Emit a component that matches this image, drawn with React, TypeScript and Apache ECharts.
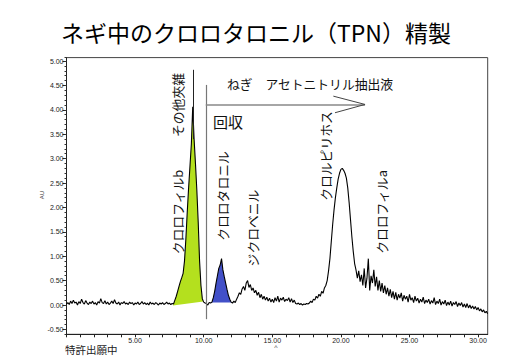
import React, { useEffect, useRef } from "react";
import * as echarts from "echarts";

const chartTitle = "ネギ中のクロロタロニル（TPN）精製";
const footerText = "特許出願中";
const yAxisName = "AU";

// chromatogram sampled every 0.1 min
const sampleStep = 0.1;

const baselineStart = 0.0;
const baseline = [
  0.02, 0.05, 0.01, 0.08, 0.03, 0.1, 0.04, 0.06, 0.0, 0.07,
  0.03, 0.12, 0.05, 0.02, 0.09, 0.04, 0.01, 0.06, 0.03, 0.08,
  0.02, 0.05, 0.0, 0.07, 0.04, 0.13, 0.05, 0.03, 0.09, 0.02,
  0.06, 0.01, 0.04, 0.08, 0.03, 0.11, 0.04, 0.02, 0.06, 0.0,
  0.05, 0.03, 0.07, 0.02, 0.04, 0.01, 0.06, 0.03, 0.05, 0.0,
  0.04, 0.02, 0.06, 0.01, 0.03, 0.07, 0.02, 0.05, 0.01, 0.04,
  0.0, 0.06, 0.02, 0.04, 0.01, 0.05, 0.03, 0.0, 0.04, 0.02,
  0.05, 0.01, 0.03, 0.06, 0.02, 0.04, 0.01, 0.03,
];

const chlorophyllBStart = 7.8;
const chlorophyllB = [
  0.02, 0.1, 0.18, 0.28, 0.38, 0.48, 0.56, 0.65, 0.9, 1.35,
  1.9, 2.4, 2.85, 3.3, 4.06, 3.4, 2.9, 2.35, 1.7, 0.9,
  0.4, 0.13, 0.06, 0.04,
];

const gapStart = 10.2;
const gap = [0.03, 0.0, 0.05, 0.04];

const chlorothalonilStart = 10.6;
const chlorothalonil = [
  0.06, 0.15, 0.28, 0.45, 0.6, 0.75, 0.82, 0.95, 0.72, 0.58,
  0.45, 0.32, 0.2, 0.12, 0.06,
];

const tailStart = 12.1;
const tail = [
  0.04, 0.08, 0.05, 0.12, 0.18, 0.25, 0.22, 0.33, 0.38, 0.3,
  0.45, 0.5, 0.36, 0.42, 0.3, 0.35, 0.25, 0.3, 0.2, 0.26,
  0.15, 0.22, 0.12, 0.18, 0.1, 0.16, 0.08, 0.14, 0.06, 0.12,
  0.05, 0.15, 0.08, 0.18, 0.06, 0.14, 0.1, 0.16, 0.07, 0.12,
  0.09, 0.15, 0.06, 0.13, 0.05, 0.1, 0.03, 0.02, 0.04, 0.01,
  0.03, 0.0, 0.02, 0.01, 0.03, 0.02, 0.04, 0.08, 0.05, 0.12,
  0.1, 0.18, 0.14, 0.22, 0.18, 0.28, 0.24, 0.35, 0.4, 0.5,
  0.7, 0.95, 1.3, 1.65, 1.95, 2.2, 2.4, 2.58, 2.7, 2.78,
  2.8, 2.76, 2.7, 2.6, 2.4, 2.1, 1.75, 1.4, 1.1, 0.85,
  0.72, 0.55, 0.7, 0.48, 0.62, 0.4, 0.75, 0.35, 0.55, 0.95,
  0.3, 0.6, 0.45, 0.72, 0.38, 0.58, 0.3, 0.5, 0.28, 0.45,
  0.25, 0.4, 0.22, 0.35, 0.18, 0.32, 0.15, 0.28, 0.12, 0.26,
  0.1, 0.22, 0.14, 0.25, 0.08, 0.2, 0.12, 0.18, 0.06, 0.22,
  0.1, 0.15, 0.05, 0.18, 0.08, 0.14, 0.04, 0.12, 0.06, 0.16,
  0.03, 0.1, 0.05, 0.12, 0.02, 0.09, 0.04, 0.15, 0.01, 0.08,
  0.03, 0.12, 0.0, 0.07, 0.02, 0.1, -0.01, 0.06, 0.0, 0.08,
  -0.02, 0.05, 0.01, 0.07, -0.03, 0.04, -0.01, 0.05, -0.04, 0.02,
  -0.05, 0.03, -0.06, 0.0, -0.07, -0.02, -0.08, -0.03, -0.1, -0.05,
  -0.12, -0.08, -0.14, -0.1, -0.16, -0.13, -0.18,
];

// integration baselines of the shaded peaks [time, AU]
const greenBaseline = [[7.76, -0.01], [9.97, 0.07]];
const blueBaseline = [[10.5, 0.05], [12.1, 0.05]];

const yLabelValues = [-0.5, 0, 0.5, 1, 1.5, 2, 2.5, 3, 3.5, 4, 4.5, 5];
const xLabelValues = [5, 10, 15, 20, 25, 30];

// annotation marks [time, AU]
const peakCutLine = [[9.22, 4.82], [9.22, 3.4]];
const recoveryLine = [[10.15, 4.51], [10.15, -0.29]];
const arrowShaft = [[10.15, 4.11], [21.76, 4.11]];
const arrowHeadUpper = [[19.45, 4.28], [21.76, 4.11]];
const arrowHeadLower = [[19.57, 3.94], [21.76, 4.11]];

const peakLabels = [
  { text: "その他夾雑", x: 177, y: 105 },
  { text: "クロロフィルb", x: 177, y: 212 },
  { text: "クロロタロニル", x: 222, y: 196 },
  { text: "ジクロベニル", x: 252, y: 228 },
  { text: "クロルピリホス", x: 325, y: 156 },
  { text: "クロロフィルa", x: 381, y: 212 },
];

function toPairs(start: number, values: number[]): number[][] {
  return values.map((v, i) => [Math.round((start + i * sampleStep) * 100) / 100, v]);
}

const chlorophyllBPairs = toPairs(chlorophyllBStart, chlorophyllB);
const chlorothalonilPairs = toPairs(chlorothalonilStart, chlorothalonil);
const trace = [
  ...toPairs(baselineStart, baseline),
  ...chlorophyllBPairs,
  ...toPairs(gapStart, gap),
  ...chlorothalonilPairs,
  ...toPairs(tailStart, tail),
];

const greenPeak = chlorophyllBPairs.filter((p) => p[0] >= 7.8 && p[0] <= 9.9);
const bluePeak = chlorothalonilPairs;

function fillSeries(peak: number[][], base: number[][], color: string) {
  return {
    type: "custom",
    coordinateSystem: "cartesian2d",
    silent: true,
    z: 1,
    data: [[base[0][0], base[0][1]]],
    renderItem: (_params: any, api: any) => {
      const pts = [base[0], ...peak, base[1]].map((p) => api.coord(p));
      return {
        type: "polygon",
        shape: { points: pts },
        style: { fill: color, stroke: "none" },
      };
    },
  };
}

function seg(pair: number[][], color: string, width: number) {
  return [
    { coord: pair[0], lineStyle: { color, width, type: "solid" } },
    { coord: pair[1] },
  ];
}

const cjk = '"Noto Sans CJK JP", sans-serif';
const latin = '"Liberation Sans", Arial, sans-serif';

export default function App() {
  const ref = useRef<HTMLDivElement>(null);
  useEffect(() => {
    if (!ref.current) return;
    const chart = echarts.init(ref.current, undefined, { renderer: "svg" });
    chart.setOption({
      animation: false,
      backgroundColor: "#ffffff",
      grid: {
        left: 66.5,
        right: 29.3,
        top: 57.6,
        bottom: 23.7,
        show: true,
        borderColor: "#444",
        borderWidth: 1,
        backgroundColor: "transparent",
        outerBoundsMode: "none",
      },
      xAxis: {
        type: "value",
        min: 0,
        max: 30.7,
        interval: 1,
        axisLine: { show: true, onZero: false, lineStyle: { color: "#222", width: 1 } },
        axisTick: { show: true, length: 3, inside: false, lineStyle: { color: "#222" } },
        axisLabel: {
          show: true,
          interval: 0,
          margin: 3,
          fontSize: 7,
          fontFamily: latin,
          color: "#222",
          showMaxLabel: false,
          formatter: (v: number) => (xLabelValues.indexOf(Math.round(v * 100) / 100) >= 0 ? v.toFixed(2) : ""),
        },
        splitLine: { show: false },
      },
      yAxis: [
        {
          type: "value",
          min: -0.6,
          max: 5.07,
          axisLine: { show: true, onZero: false, lineStyle: { color: "#222", width: 1 } },
          axisTick: { show: true, length: 4, customValues: yLabelValues, lineStyle: { color: "#222" } },
          axisLabel: {
            show: true,
            margin: 3,
            fontSize: 7,
            fontFamily: latin,
            color: "#222",
            customValues: yLabelValues,
            formatter: (v: number) => v.toFixed(2),
          },
          splitLine: { show: false },
        },
        {
          type: "value",
          position: "left",
          min: -0.6,
          max: 5.07,
          interval: 0.1,
          axisLine: { show: false },
          axisTick: { show: true, length: 2, lineStyle: { color: "#333" } },
          axisLabel: { show: false },
          splitLine: { show: false },
        },
      ],
      series: [
        fillSeries(greenPeak, greenBaseline, "#b4e01e"),
        fillSeries(bluePeak, blueBaseline, "#4250c8"),
        {
          type: "line",
          data: trace,
          showSymbol: false,
          symbol: "none",
          z: 2,
          silent: true,
          lineStyle: { color: "#000", width: 1.1 },
          markLine: {
            silent: true,
            symbol: ["none", "none"],
            label: { show: false },
            emphasis: { disabled: true },
            data: [
              seg(peakCutLine, "#222", 1),
              seg(recoveryLine, "#777", 1.2),
              seg(arrowShaft, "#888", 1.5),
              seg(arrowHeadUpper, "#444", 1),
              seg(arrowHeadLower, "#444", 1),
            ],
          },
        },
      ],
      graphic: [
        {
          type: "text",
          x: 256,
          y: 32,
          style: {
            text: chartTitle,
            fontSize: 23,
            fontFamily: cjk,
            fill: "#000",
            align: "center",
            verticalAlign: "middle",
          },
        },
        {
          type: "text",
          x: 65,
          y: 349,
          style: {
            text: footerText,
            fontSize: 10.5,
            fontFamily: cjk,
            fill: "#222",
            align: "left",
            verticalAlign: "middle",
          },
        },
        {
          type: "text",
          x: 42,
          y: 195,
          rotation: Math.PI / 2,
          style: {
            text: yAxisName,
            fontSize: 6,
            fontFamily: latin,
            fill: "#333",
            align: "center",
            verticalAlign: "middle",
          },
        },
        {
          type: "text",
          x: 276,
          y: 347,
          style: {
            text: "^",
            fontSize: 7,
            fontFamily: latin,
            fill: "#444",
            align: "center",
            verticalAlign: "middle",
          },
        },
        {
          type: "text",
          x: 227,
          y: 83,
          style: {
            text: "ねぎ　アセトニトリル抽出液",
            fontSize: 12.8,
            fontFamily: cjk,
            fill: "#111",
            align: "left",
            verticalAlign: "middle",
          },
        },
        {
          type: "text",
          x: 213,
          y: 121,
          style: {
            text: "回収",
            fontSize: 15,
            fontFamily: cjk,
            fill: "#111",
            align: "left",
            verticalAlign: "middle",
          },
        },
        ...peakLabels.map((l) => ({
          type: "text",
          x: l.x,
          y: l.y,
          rotation: Math.PI / 2,
          style: {
            text: l.text,
            fontSize: 12.8,
            fontFamily: cjk,
            fill: "#111",
            align: "center",
            verticalAlign: "middle",
          },
        })),
      ],
    });
    return () => chart.dispose();
  }, []);
  return (
    <div
      ref={ref}
      style={{ position: "fixed", left: 0, top: 0, width: 517, height: 358, background: "#fff" }}
    />
  );
}
